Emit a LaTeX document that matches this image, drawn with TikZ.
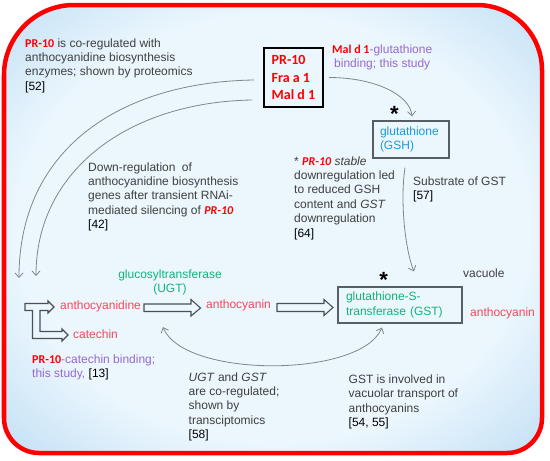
\documentclass[tikz,border=0pt]{standalone}
\usepackage{fontspec}
\setmainfont{Liberation Sans}
\newfontfamily\calfont{Carlito}
\usetikzlibrary{arrows.meta}
\definecolor{txtgray}{RGB}{64,64,64}
\definecolor{prred}{RGB}{255,0,0}
\definecolor{cpink}{RGB}{245,72,90}
\definecolor{cgrn}{RGB}{18,180,122}
\definecolor{cblu}{RGB}{25,155,220}
\definecolor{cpur}{RGB}{152,105,205}
\definecolor{cconn}{RGB}{128,134,140}
\definecolor{bgin}{RGB}{235,246,253}
\definecolor{bgout}{RGB}{192,223,245}
\definecolor{boxgray}{RGB}{85,95,100}
\definecolor{arrgray}{RGB}{75,80,85}
\pgfdeclareradialshading{bgshade}{\pgfpoint{0bp}{0bp}}{color(0bp)=(bgin); color(24bp)=(bgin); color(36bp)=(bgout); color(50bp)=(bgout)}
\newcommand\prb[1]{{\calfont\bfseries\color{prred}#1}}
\newcommand\prbi[1]{{\calfont\bfseries\itshape\color{prred}#1}}
\newcommand\rf[1]{{\color{black}#1}}
\begin{document}
\begin{tikzpicture}[x=1pt,y=-1pt,
  txt/.style={anchor=base west, align=left, inner sep=0pt, text=txtgray, font=\fontsize{12}{14.4}\selectfont},
  conn/.style={draw=cconn, line width=0.8pt, -{Straight Barb[length=4.5pt,width=8pt]}},
  conntwo/.style={draw=cconn, line width=0.8pt, {Straight Barb[length=4.5pt,width=8pt]}-{Straight Barb[length=4.5pt,width=8pt]}},
  hollow/.style={draw=arrgray, line width=1.1pt, line join=miter},
  starmark/.style={font=\bfseries\fontsize{22}{22}\selectfont, inner sep=0pt, anchor=north},
  boxnode/.style={align=left, inner ysep=0pt, font=\fontsize{12}{14.4}\selectfont}]
\useasboundingbox (0,0) rectangle (550,461);
% background
\begin{scope}
\clip (4,75) .. controls (4,36.4) and (35.4,5) .. (74,5) -- (477,5) .. controls (512.9,5) and (542,34.1) .. (542,70) -- (542,418) .. controls (542,437.3) and (526.3,453) .. (507,453) -- (39,453) .. controls (19.7,453) and (4,437.3) .. (4,418) -- cycle;
\shade[shading=bgshade] (4,5) rectangle (542,453);
\end{scope}
\draw[draw=prred, line width=4.5pt] (4,75) .. controls (4,36.4) and (35.4,5) .. (74,5) -- (477,5) .. controls (512.9,5) and (542,34.1) .. (542,70) -- (542,418) .. controls (542,437.3) and (526.3,453) .. (507,453) -- (39,453) .. controls (19.7,453) and (4,437.3) .. (4,418) -- cycle;

% texts (anchor = baseline of the last line)
\node[txt] (t52) at (25,90.2) {\prb{PR-10} is co-regulated with\\anthocyanidine biosynthesis\\enzymes; shown by proteomics\\\rf{[52]}};
\node[draw=black, line width=1.8pt, inner sep=0pt, minimum width=59pt, minimum height=59pt, align=left, font=\calfont\bfseries\fontsize{14}{17.5}\selectfont, text=prred] (prbox) at (293.5,77.5) {PR-10\\Fra a 1\\Mal d 1};
\node[txt, text=cpur] (mal) at (332,67.6) {\prb{Mal d 1}-glutathione\\\hspace{2pt}binding; this study};
\node[starmark] (s1) at (394.5,106.5) {*};
\node[boxnode, draw=boxgray, line width=1.2pt, text width=62pt, inner xsep=7pt, minimum height=37pt, text=cblu] (gsh) at (411,139.5) {glutathione\\(GSH)};
\node[txt] (t64) at (294,237) {* \prbi{PR-10} \textit{stable}\\downregulation led\\to reduced GSH\\content and \textit{GST}\\downregulation\\\rf{[64]}};
\node[txt] (t57) at (413,199.4) {Substrate of GST\\\rf{[57]}};
\node[txt] (t42) at (88,228.6) {Down-regulation\hspace{3pt} of\\anthocyanidine biosynthesis\\genes after transient RNAi-\\mediated silencing of \prbi{PR-10}\\\rf{[42]}};
\node[txt, align=center, anchor=base, text=cgrn] (ugt) at (170,292.4) {glucosyltransferase\\(UGT)};
\node[starmark] (s2) at (383.7,272.5) {*};
\node[txt] (vac) at (463,277) {vacuole};
\node[boxnode, draw=boxgray, line width=1.2pt, text width=108pt, inner xsep=8pt, minimum height=36pt, text=cgrn] (gst) at (400,305) {glutathione-S-\\transferase (GST)};
\node[txt, text=cpink] (anth2) at (470,316) {anthocyanin};
\node[txt, text=cpink] (acd) at (60,309) {anthocyanidine};
\node[txt, text=cpink] (anth1) at (206,308.5) {anthocyanin};
\node[txt, text=cpink] (cat) at (73,338.5) {catechin};
\node[txt, text=cpur] (t13) at (32,377.9) {\prb{PR-10}-catechin binding;\\this study, \rf{[13]}};
\node[txt] (t58) at (188.5,438.6) {\textit{UGT} and \textit{GST}\\are co-regulated;\\shown by\\transciptomics\\\rf{[58]}};
\node[txt] (t55) at (348.5,426.7) {GST is involved in\\vacuolar transport of\\anthocyanins\\\rf{[54, 55]}};

% free ends
\coordinate (ca) at (19,278);
\coordinate (cb) at (36,276);
\coordinate (ugtpt) at (163,327);

% hollow arrows
\draw[hollow] (25,303.5) -- (48,303.5) -- (48,301) -- (54,307) -- (48,313) -- (48,310.5) -- (40,310.5) -- (40,331.5) -- (62,331.5) -- (62,329) -- (68,335) -- (62,341) -- (62,338.5) -- (32.5,338.5) -- (32.5,310.5) -- (25,310.5) -- cycle;
\draw[hollow] (144,304) -- (191,304) -- (191,299.5) -- (200.5,308) -- (191,316) -- (191,311.5) -- (144,311.5) -- cycle;
\draw[hollow] (277,303.5) -- (324,303.5) -- (324,299.5) -- (333,307.5) -- (324,315.5) -- (324,311.5) -- (277,311.5) -- cycle;

% connectors
\draw[conn] ([xshift=5pt]prbox.east) .. controls +(45,0) and +(-2,-22) .. ([xshift=1pt,yshift=4pt]gsh.north);
\draw[conn] ([xshift=-6pt,yshift=-9pt]gsh.south) .. controls +(-5,33) and +(-9,-22) .. ([xshift=14pt,yshift=15pt]gst.north);
\draw[conn] ([xshift=-9pt,yshift=-2.5pt]prbox.west) .. controls +(-135,2) and +(0,-128) .. (ca);
\draw[conn] ([xshift=-11pt,yshift=-22.5pt]prbox.west) .. controls +(-123,2) and +(0,-106) .. (cb);
\draw[conntwo] (ugtpt) .. controls +(20,51) and +(-22,51) .. ([xshift=-18pt,yshift=-4pt]gst.south);
\end{tikzpicture}
\end{document}
